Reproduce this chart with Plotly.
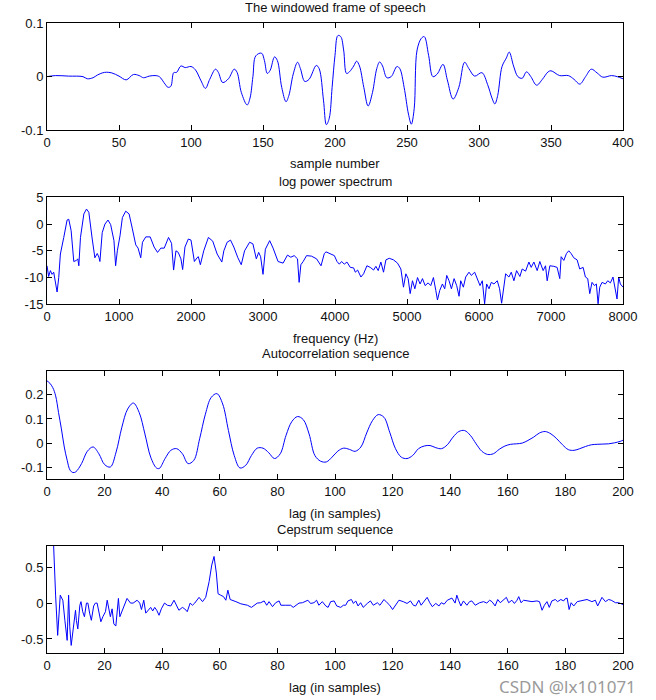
#######################################################################################################################
# Speech frame analysis plot (frame, log spectrum, autocorrelation, cepstrum)
#######################################################################################################################
import plotly.graph_objects as go
from plotly.subplots import make_subplots

#######################################################################################################################
# Data
#######################################################################################################################
# ------------------------------------------
# Windowed frame of speech
# ------------------------------------------
frame_n = [0, 6, 15, 25, 28, 32, 35, 40, 45, 50, 55, 60, 64, 67, 71, 75, 78, 82, 84, 86, 88, 90, 93, 96, 100, 103,
           107, 110, 113, 117, 119, 122, 126, 130, 132, 135, 139, 141, 143, 145, 149, 151, 153, 155, 158, 160, 163,
           166, 168, 171, 174, 176, 179, 182, 187, 189, 192, 194, 196, 198, 200, 202, 204, 206, 208, 210, 213, 215,
           217, 220, 223, 226, 229, 231, 233, 236, 239, 243, 245, 248, 251, 253, 255, 257, 260, 262, 265, 268, 271,
           275, 278, 282, 286, 290, 293, 297, 302, 306, 309, 311, 313, 316, 319, 321, 324, 327, 330, 333, 336, 340,
           344, 348, 350, 356, 362, 366, 370, 374, 378, 382, 386, 392, 396, 400]
frame_x = [0.0, 0.002, 0.001, 0.0, -0.004, -0.002, 0.003, 0.008, 0.007, 0.001, -0.006, 0.004, 0.002, -0.002, 0.001,
           0.002, 0.0, -0.014, -0.02, -0.018, 0.0075, 0.008, 0.02, 0.017, 0.019, 0.013, -0.008, -0.022, -0.005, 0.014,
           0.008, -0.011, -0.004, 0.014, 0.008, -0.03, -0.053, -0.04, 0.0, 0.039, 0.044, 0.03, 0.006, 0.012, 0.037,
           0.03, -0.02, -0.047, -0.035, 0.005, 0.027, 0.015, -0.009, -0.005, 0.021, 0.015, -0.044, -0.09, -0.078,
           -0.02, 0.04, 0.077, 0.075, 0.05, 0.006, 0.009, 0.02, 0.029, 0.02, -0.02, -0.055, -0.03, 0.015, 0.0275, 0.02,
           -0.002, 0.0, 0.019, 0.015, -0.02, -0.07, -0.089, -0.06, 0.05, 0.072, 0.075, 0.04, 0.0, 0.005, 0.023,
           -0.006, -0.042, -0.02, 0.027, 0.015, 0.001, 0.0075, -0.015, -0.04, -0.051, -0.035, 0.019, 0.035, 0.046,
           0.02, 0.0, -0.003, 0.009, 0.0, -0.016, -0.005, 0.009, 0.011, 0.002, 0.002, -0.005, -0.014, 0.0, 0.014,
           0.007, -0.001, 0.002, 0.0, -0.004]

# ------------------------------------------
# Log power spectrum
# ------------------------------------------
spec_f = [0, 23, 47, 70, 93, 116, 140, 163, 186, 233, 279, 302, 335, 372, 409, 428, 442, 465, 512, 549, 581, 628,
          665, 698, 721, 735, 767, 805, 847, 884, 930, 953, 977, 1014, 1047, 1093, 1140, 1186, 1233, 1265, 1302, 1326,
          1372, 1433, 1488, 1535, 1581, 1628, 1688, 1730, 1758, 1791, 1823, 1860, 1884, 1916, 1963, 2000, 2047, 2084,
          2102, 2130, 2177, 2242, 2302, 2363, 2395, 2428, 2456, 2502, 2549, 2595, 2651, 2698, 2744, 2814, 2860, 2907,
          2940, 2967, 3000, 3033, 3093, 3140, 3209, 3279, 3340, 3386, 3433, 3479, 3502, 3526, 3558, 3605, 3674, 3744,
          3806, 3852, 3875, 3921, 3991, 4028, 4060, 4092, 4129, 4166, 4212, 4259, 4282, 4314, 4360, 4397, 4443, 4490,
          4536, 4568, 4600, 4637, 4674, 4707, 4753, 4813, 4868, 4915, 4951, 4984, 5016, 5044, 5076, 5109, 5146, 5182,
          5215, 5252, 5293, 5330, 5367, 5400, 5423, 5455, 5492, 5524, 5552, 5584, 5617, 5654, 5690, 5723, 5746, 5783,
          5815, 5861, 5894, 5940, 5977, 6014, 6046, 6078, 6106, 6139, 6171, 6208, 6254, 6286, 6314, 6337, 6370, 6416,
          6448, 6485, 6522, 6568, 6600, 6647, 6693, 6725, 6762, 6808, 6845, 6891, 6924, 6947, 6984, 7039, 7085, 7122,
          7141, 7178, 7215, 7247, 7279, 7316, 7363, 7399, 7446, 7478, 7510, 7538, 7570, 7603, 7630, 7654, 7677, 7709,
          7755, 7788, 7825, 7861, 7894, 7917, 7940, 7963, 8000]
spec_db = [-7.8, -9.8, -8.7, -9.4, -9.0, -10.5, -12.7, -10.0, -5.6, -2.5, 0.75, 0.9, -1.2, -7.0, -6.8, -6.5, -7.8,
           -2.5, 1.9, 2.8, 2.2, -2.8, -6.3, -5.5, -6.2, -7.0, -1.6, 0.0, 0.75, -0.1, -3.1, -7.8, -5.0, -2.2, 1.2, 2.4,
           1.9, -0.9, -3.9, -4.5, -6.3, -3.4, -2.4, -2.4, -4.3, -5.3, -4.5, -4.5, -2.5, -3.6, -8.6, -5.0, -5.3, -6.5,
           -8.5, -4.3, -2.8, -3.0, -7.0, -6.3, -6.1, -7.6, -5.0, -2.5, -3.2, -5.6, -6.3, -7.1, -5.0, -3.4, -3.0, -4.3,
           -6.3, -7.6, -5.0, -3.4, -3.7, -6.5, -5.3, -6.1, -9.4, -4.7, -3.1, -4.5, -7.0, -7.3, -5.8, -6.2, -5.9, -6.5,
           -10.9, -7.6, -7.0, -5.9, -6.0, -6.5, -7.8, -5.5, -5.2, -5.5, -5.9, -7.0, -7.5, -7.0, -7.5, -7.1, -8.1, -8.2,
           -9.0, -8.6, -9.9, -9.3, -7.8, -8.1, -8.6, -7.9, -8.7, -7.1, -9.0, -6.7, -6.4, -6.7, -7.3, -8.4, -11.8, -9.3,
           -10.2, -13.0, -10.6, -12.1, -10.0, -11.2, -10.2, -11.5, -11.0, -11.5, -10.0, -12.4, -14.2, -12.4, -11.2,
           -12.1, -9.6, -10.6, -12.1, -10.2, -11.5, -13.5, -10.6, -11.8, -9.9, -9.0, -9.6, -9.0, -10.2, -11.5, -10.6,
           -14.9, -11.2, -12.1, -10.9, -11.2, -10.6, -12.1, -14.8, -12.4, -9.3, -9.9, -9.0, -10.6, -8.7, -9.8, -8.4,
           -8.8, -7.1, -8.1, -7.1, -8.7, -7.0, -8.7, -7.8, -10.6, -7.8, -7.9, -8.1, -10.2, -6.1, -6.8, -5.5, -5.0,
           -5.5, -6.3, -6.7, -8.4, -8.1, -9.9, -10.2, -13.0, -10.9, -11.5, -11.2, -14.9, -11.8, -10.9, -11.2, -10.6,
           -11.0, -9.9, -12.7, -14.0, -9.9, -11.2, -11.8]

# ------------------------------------------
# Autocorrelation sequence
# ------------------------------------------
acf_lag = [0, 1, 2, 3, 4, 5, 6, 7, 8, 9, 10, 12, 14, 16, 18, 20, 22, 24, 26, 28, 30, 32, 34, 36, 38, 39, 41, 43, 45,
           47, 49, 51, 53, 55, 57, 59, 61, 63, 65, 67, 69, 71, 73, 75, 77, 79, 81, 83, 85, 87, 89, 91, 93, 95, 97, 99,
           101, 103, 105, 107, 109, 111, 113, 115, 117, 119, 121, 123, 125, 127, 129, 131, 133, 135, 137, 139, 141,
           143, 145, 147, 149, 151, 153, 155, 157, 159, 161, 163, 165, 167, 169, 171, 173, 175, 177, 179, 181, 183,
           185, 187, 189, 191, 193, 195, 197, 199, 200]
acf_val = [0.258, 0.248, 0.23, 0.196, 0.127, 0.059, -0.016, -0.071, -0.112, -0.122, -0.119, -0.085, -0.034, -0.016,
           -0.044, -0.089, -0.099, -0.037, 0.066, 0.141, 0.166, 0.127, 0.038, -0.058, -0.103, -0.105, -0.064, -0.03,
           -0.023, -0.044, -0.085, -0.071, 0.018, 0.12, 0.189, 0.205, 0.162, 0.052, -0.051, -0.103, -0.092, -0.051,
           -0.021, -0.021, -0.04, -0.064, -0.044, 0.032, 0.089, 0.11, 0.097, 0.038, -0.051, -0.075, -0.078, -0.058,
           -0.033, -0.021, -0.026, -0.034, -0.016, 0.042, 0.093, 0.118, 0.107, 0.045, -0.023, -0.058, -0.064, -0.051,
           -0.023, -0.012, -0.01, -0.019, -0.023, -0.007, 0.025, 0.048, 0.052, 0.032, -0.003, -0.034, -0.047, -0.044,
           -0.026, -0.012, -0.005, -0.003, 0.0, 0.011, 0.025, 0.042, 0.048, 0.038, 0.018, -0.007, -0.027, -0.03,
           -0.023, -0.014, -0.007, -0.005, -0.004, -0.003, 0.001, 0.007, 0.012]

# ------------------------------------------
# Cepstrum sequence
# ------------------------------------------
cep_lag = [0, 1, 2, 3.0, 3.3, 3.7, 4.6, 5.5, 6.2, 6.7, 7.0, 7.5, 7.9, 8.4, 8.7, 9.3, 9.9, 10.2, 10.7, 11.4, 11.8,
           12.4, 13.0, 13.7, 14.2, 14.8, 15.4, 16.2, 16.8, 17.4, 18.0, 18.7, 19.4, 20.3, 20.9, 21.5, 22.0, 22.6, 23.2,
           23.9, 24.4, 24.8, 25.3, 25.8, 26.7, 27.8, 29.0, 29.9, 31.3, 32.2, 32.8, 33.6, 34.3, 35.0, 36.0, 36.7, 37.4,
           38.1, 38.9, 39.7, 40.8, 41.8, 43.0, 44.1, 45.0, 45.8, 47.0, 47.8, 48.7, 49.7, 50.5, 51.3, 52.8, 54.0, 55.1,
           56.3, 57.2, 58.0, 58.8, 59.4, 60.3, 61.3, 62.1, 62.8, 63.6, 64.4, 65.6, 67.3, 69.6, 71.0, 72.1, 73.0, 74.2,
           75.4, 76.3, 77.1, 78.3, 79.4, 80.6, 81.2, 82.9, 84.6, 85.5, 86.4, 87.5, 88.7, 89.8, 90.6, 91.5, 92.7, 93.6,
           94.4, 95.6, 96.8, 97.6, 98.5, 99.7, 100.6, 102.0, 102.9, 103.7, 104.5, 105.7, 106.4, 107.2, 108.0, 108.9,
           109.8, 111.2, 112.3, 113.3, 114.7, 115.6, 117.0, 118.1, 119.0, 120.0, 121.0, 122.2, 123.7, 125.0, 126.2,
           127.2, 128.0, 129.1, 129.9, 130.8, 132.0, 132.9, 133.8, 135.0, 136.1, 136.9, 137.9, 139.0, 140.6, 141.7,
           142.3, 142.9, 143.7, 144.6, 145.8, 146.7, 147.5, 148.7, 150.2, 151.6, 152.7, 153.7, 154.5, 155.6, 156.5,
           157.4, 158.6, 159.5, 160.3, 161.4, 162.3, 163.2, 163.8, 164.6, 165.5, 166.9, 168.4, 170.1, 171.0, 171.9,
           172.7, 173.6, 174.4, 175.3, 176.5, 177.3, 178.4, 179.4, 179.9, 180.6, 181.3, 182.0, 182.9, 184.1, 185.2,
           186.4, 187.5, 189.2, 190.4, 191.2, 191.9, 192.7, 193.9, 195.0, 195.9, 197.4, 198.5, 200.0]
cep_val = [1.9, 1.5, 1.1, 0.1, -0.24, -0.45, 0.11, 0.04, -0.24, -0.43, -0.52, 0.11, -0.33, -0.59, -0.5, -0.29, -0.1,
           -0.24, -0.36, -0.03, 0.02, -0.12, -0.19, 0.0, 0.0, -0.14, -0.24, -0.04, 0.0, 0.0, -0.12, -0.26, -0.19,
           -0.12, 0.04, -0.1, -0.19, -0.08, -0.29, -0.32, -0.1, 0.065, -0.19, -0.14, -0.03, 0.065, 0.0, 0.0, 0.04, 0.0,
           -0.09, 0.04, -0.14, -0.1, -0.06, -0.11, -0.06, -0.1, -0.17, -0.08, 0.0, -0.03, -0.04, 0.04, -0.04, -0.1,
           -0.06, -0.08, -0.12, 0.0, -0.03, 0.0, 0.08, 0.02, 0.08, 0.3, 0.53, 0.65, 0.42, 0.13, 0.11, 0.09, 0.04, 0.18,
           0.05, 0.04, 0.02, -0.01, -0.03, -0.06, -0.03, 0.0, 0.005, 0.03, -0.03, 0.02, -0.05, 0.005, 0.03, -0.03,
           -0.03, -0.03, -0.06, -0.03, 0.0, 0.005, 0.02, 0.04, -0.005, 0.005, 0.04, -0.03, 0.02, -0.04, -0.06, 0.02,
           0.03, -0.04, -0.06, -0.03, -0.03, 0.03, 0.05, -0.005, 0.03, -0.04, 0.005, -0.06, -0.005, 0.03, -0.03, 0.005,
           -0.03, 0.05, 0.005, -0.03, -0.09, -0.03, 0.04, 0.02, -0.005, 0.03, -0.03, -0.04, 0.04, -0.03, 0.02, 0.08,
           0.005, -0.05, -0.005, -0.04, 0.005, -0.015, 0.04, 0.07, 0.0, 0.11, 0.04, -0.04, 0.03, -0.03, 0.02, 0.03,
           -0.03, 0.005, 0.02, 0.0, 0.04, 0.02, -0.04, 0.05, 0.005, 0.05, 0.08, 0.005, 0.04, -0.005, 0.04, 0.09, 0.005,
           0.04, 0.03, 0.02, 0.03, 0.02, -0.1, -0.03, 0.02, -0.06, 0.03, 0.05, 0.02, 0.05, 0.03, 0.06, 0.07, -0.09,
           0.005, -0.04, 0.02, 0.03, 0.04, 0.05, 0.02, 0.04, -0.04, 0.02, 0.08, 0.02, 0.05, 0.04, 0.005, 0.005, -0.02]

# ------------------------------------------
# Axis ticks
# ------------------------------------------
frame_xticks = [0, 50, 100, 150, 200, 250, 300, 350, 400]
frame_yticks = [-0.1, 0, 0.1]
frame_ytext = ["-0.1", "0", "0.1"]
spec_xticks = [0, 1000, 2000, 3000, 4000, 5000, 6000, 7000, 8000]
spec_yticks = [-15, -10, -5, 0, 5]
spec_ytext = ["-15", "-10", "-5", "0", "5"]
lag_xticks = [0, 20, 40, 60, 80, 100, 120, 140, 160, 180, 200]
acf_yticks = [-0.1, 0, 0.1, 0.2]
acf_ytext = ["-0.1", "0", "0.1", "0.2"]
cep_yticks = [-0.5, 0, 0.5]
cep_ytext = ["-0.5", "0", "0.5"]

#######################################################################################################################
# Plotting
#######################################################################################################################
W, H = 656, 700
fig = make_subplots(rows=4, cols=1)

blue = dict(color='#0000FF', width=1)
fig.add_trace(go.Scatter(x=frame_n, y=frame_x, mode='lines', line=dict(blue, shape='spline')), row=1, col=1)
fig.add_trace(go.Scatter(x=spec_f, y=spec_db, mode='lines', line=blue), row=2, col=1)
fig.add_trace(go.Scatter(x=acf_lag, y=acf_val, mode='lines', line=dict(blue, shape='spline')), row=3, col=1)
fig.add_trace(go.Scatter(x=cep_lag, y=cep_val, mode='lines', line=blue), row=4, col=1)

# ------------------------------------------
# Axes (MATLAB-like box with inside ticks)
# ------------------------------------------
axstyle = dict(showline=True, linecolor='#000000', linewidth=1, mirror='allticks', ticks='inside', ticklen=5,
               tickcolor='#000000', showgrid=False, zeroline=False, automargin=False,
               tickfont=dict(size=13, color='#111111'))
fig.update_xaxes(**axstyle)
fig.update_yaxes(**axstyle)


def dom(top, bottom):
    return [1 - bottom / H, 1 - top / H]


fig.update_xaxes(range=[0, 400], tickvals=frame_xticks, row=1, col=1)
fig.update_yaxes(range=[-0.1, 0.1], tickvals=frame_yticks, ticktext=frame_ytext, domain=dom(23.3, 130), row=1, col=1)
fig.update_xaxes(range=[0, 8000], tickvals=spec_xticks, row=2, col=1)
fig.update_yaxes(range=[-15, 5], tickvals=spec_yticks, ticktext=spec_ytext, domain=dom(197.3, 304.3), row=2, col=1)
fig.update_xaxes(range=[0, 200], tickvals=lag_xticks, row=3, col=1)
fig.update_yaxes(range=[-0.15, 0.3], tickvals=acf_yticks, ticktext=acf_ytext, domain=dom(370.7, 479.3), row=3, col=1)
fig.update_xaxes(range=[0, 200], tickvals=lag_xticks, row=4, col=1)
fig.update_yaxes(range=[-0.7, 0.8], tickvals=cep_yticks, ticktext=cep_ytext, domain=dom(545.7, 653.3), row=4, col=1)

# ------------------------------------------
# Titles and labels
# ------------------------------------------
labels = [("The windowed frame of speech", 7), ("sample number", 163),
          ("log power spectrum", 181), ("frequency (Hz)", 338),
          ("Autocorrelation sequence", 354), ("lag (in samples)", 513),
          ("Cepstrum sequence", 529), ("lag (in samples)", 687)]
for txt, py in labels:
    fig.add_annotation(text=txt, x=0.5, y=1 - py / H, xref='paper', yref='paper', showarrow=False,
                       xanchor='center', yanchor='middle', font=dict(size=13, color='#111111'))

fig.add_annotation(text="CSDN @lx101071", x=(567 - 47) / 576, y=1 - 686 / H, xref='paper', yref='paper',
                   showarrow=False, xanchor='center', yanchor='middle',
                   font=dict(family='Noto Sans', size=17, color='#9a9a9a'))

fig.update_layout(width=W, height=H, showlegend=False, plot_bgcolor='white', paper_bgcolor='white',
                  margin=dict(l=47, r=33, t=0, b=0), font=dict(family='Liberation Sans, Arial, sans-serif'))

# page body has a default 8px margin, drop it so the figure sits at the window corner
fig.write_html("out.html", config={'displayModeBar': False},
               post_script="document.body.style.margin='0';")
